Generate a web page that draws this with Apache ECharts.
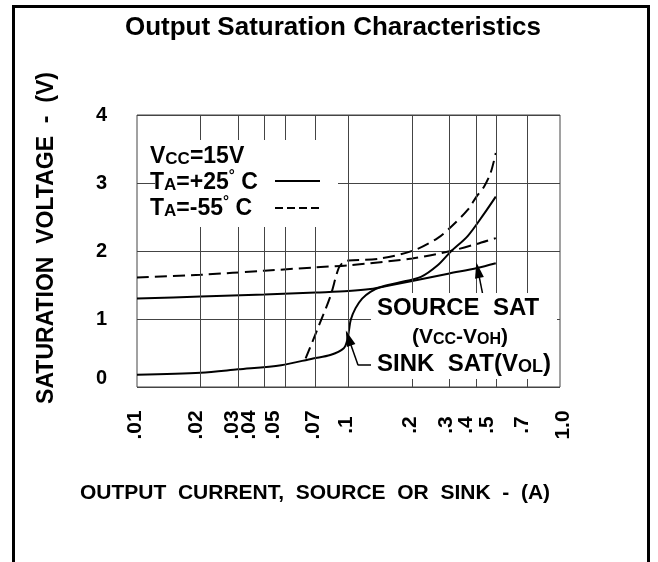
<!DOCTYPE html>
<html>
<head>
<meta charset="utf-8">
<script src="https://cdn.jsdelivr.net/npm/echarts@6/dist/echarts.min.js"></script>
<style>
  html, body { margin: 0; padding: 0; background: #fff; }
  #chart { width: 658px; height: 562px; }
</style>
</head>
<body>
<div id="chart"></div>
<script>
// output current (A) / saturation voltage (V)
const sinkCurrent25 = [0.01, 0.02, 0.03, 0.048, 0.068, 0.082, 0.095, 0.0987, 0.1006, 0.1025, 0.108, 0.116, 0.127, 0.142, 0.17, 0.22, 0.264, 0.304, 0.366, 0.438, 0.497];
const sinkVolt25 = [0.18, 0.21, 0.26, 0.32, 0.42, 0.47, 0.57, 0.69, 0.84, 0.99, 1.16, 1.30, 1.40, 1.47, 1.53, 1.62, 1.79, 1.99, 2.22, 2.55, 2.80];

const sourceCurrent25 = [0.01, 0.02, 0.04, 0.07, 0.1, 0.127, 0.16, 0.2, 0.3, 0.406, 0.497];
const sourceVolt25 = [1.30, 1.33, 1.36, 1.39, 1.41, 1.44, 1.50, 1.56, 1.67, 1.75, 1.82];

const sourceCurrent55 = [0.01, 0.02, 0.04, 0.07, 0.1, 0.2, 0.304, 0.4, 0.497];
const sourceVolt55 = [1.61, 1.65, 1.71, 1.76, 1.79, 1.89, 2.0, 2.10, 2.19];

const sinkCurrent55 = [0.0627, 0.0711, 0.082, 0.0899, 0.095, 0.1, 0.142, 0.204, 0.264, 0.304, 0.365, 0.403, 0.438, 0.47, 0.497];
const sinkVolt55 = [0.42, 0.84, 1.33, 1.75, 1.84, 1.86, 1.89, 2.01, 2.19, 2.35, 2.60, 2.80, 2.95, 3.15, 3.44];

const gridCurrents = [0.02, 0.03, 0.04, 0.05, 0.07, 0.1, 0.2, 0.3, 0.4, 0.5, 0.7];
const tickValues = [0.01, 0.02, 0.03, 0.04, 0.05, 0.07, 0.1, 0.2, 0.3, 0.4, 0.5, 0.7, 1.0];
const tickText = [".01", ".02", ".03", ".04", ".05", ".07", ".1", ".2", ".3", ".4", ".5", ".7", "1.0"];
// the crowded labels sit a little left of their lines on the original
const tickNudge = [-2, -4, -6, -15, -12, -3, -2, -2, -3, -10, -9, -5, 3];

const FONT = "'Liberation Sans', Arial, sans-serif";

function zip(xs, ys) {
  return xs.map((x, i) => [x, ys[i]]);
}

const chart = echarts.init(document.getElementById("chart"), null, { renderer: "canvas" });

const curve = {
  type: "line",
  showSymbol: false,
  smooth: 0.3,
  silent: true,
  animation: false
};

chart.setOption({
  backgroundColor: "#fff",
  animation: false,
  grid: {
    left: 137,
    right: 98,
    top: 115,
    bottom: 175,
    show: true,
    borderColor: "#444",
    borderWidth: 1
  },
  xAxis: {
    type: "log",
    logBase: 10,
    min: 0.01,
    max: 1,
    axisLine: { show: false },
    axisTick: { show: false },
    axisLabel: { show: false },
    splitLine: { show: false },
    minorSplitLine: { show: false }
  },
  yAxis: {
    type: "value",
    min: 0,
    max: 4,
    interval: 1,
    axisLine: { show: false },
    axisTick: { show: false },
    axisLabel: {
      margin: 30,
      color: "#000",
      fontSize: 20,
      fontWeight: "bold",
      fontFamily: FONT,
      // the "0" is printed a bit above the bottom edge on the original
      formatter: v => (v === 0 ? "{z|0}" : String(v)),
      rich: {
        z: { fontSize: 20, fontWeight: "bold", fontFamily: FONT, color: "#000", padding: [0, 0, 18, 0] }
      }
    },
    splitLine: { lineStyle: { color: "#444", width: 1 } }
  },
  series: [
    {
      // vertical grid lines of the log paper
      type: "line",
      data: [],
      silent: true,
      markLine: {
        silent: true,
        symbol: ["none", "none"],
        label: { show: false },
        lineStyle: { color: "#444", width: 1, type: "solid" },
        animation: false,
        data: gridCurrents.map(v => ({ xAxis: v }))
      }
    },
    Object.assign({}, curve, {
      name: "sink 25",
      data: zip(sinkCurrent25, sinkVolt25),
      lineStyle: { color: "#000", width: 2 }
    }),
    Object.assign({}, curve, {
      name: "source 25",
      data: zip(sourceCurrent25, sourceVolt25),
      lineStyle: { color: "#000", width: 2 }
    }),
    Object.assign({}, curve, {
      name: "source -55",
      data: zip(sourceCurrent55, sourceVolt55),
      lineStyle: { color: "#000", width: 2, type: [12, 6] }
    }),
    Object.assign({}, curve, {
      name: "sink -55",
      data: zip(sinkCurrent55, sinkVolt55),
      lineStyle: { color: "#000", width: 2, type: [12, 6] }
    }),
    {
      // callout arrows, above the white label boxes
      type: "line",
      data: [],
      z: 20,
      silent: true,
      markLine: {
        silent: true,
        animation: false,
        label: { show: false },
        symbol: ["none", "none"],
        lineStyle: { color: "#000", width: 1.5, type: "solid" },
        data: [
          [{ coord: [0.43, 1.38], symbol: "none" }, { coord: [0.409, 1.72], symbol: "triangle", symbolSize: [9, 16] }],
          [{ coord: [0.137, 0.32] }, { coord: [0.111, 0.32] }],
          [{ coord: [0.111, 0.32], symbol: "none" }, { coord: [0.1, 0.72], symbol: "triangle", symbolSize: [9, 16] }]
        ]
      }
    }
  ]
});

const big = { fontSize: 23, fontWeight: "bold", fontFamily: FONT, color: "#000", verticalAlign: "bottom", lineHeight: 26 };
const small = { fontSize: 17, fontWeight: "bold", fontFamily: FONT, color: "#000", verticalAlign: "bottom", lineHeight: 26 };
const deg = { fontSize: 15, fontWeight: "bold", fontFamily: FONT, color: "#000", verticalAlign: "top", lineHeight: 26 };

function richText(x, y, text, align, rich) {
  return {
    type: "text",
    x: x,
    y: y,
    z: 30,
    silent: true,
    style: {
      text: text,
      align: align,
      verticalAlign: "middle",
      rich: rich
    }
  };
}

const graphics = [
  {
    type: "rect",
    silent: true,
    z: 50,
    shape: { x: 13.5, y: 6.5, width: 635, height: 620 },
    style: { fill: "none", stroke: "#000", lineWidth: 3 }
  },
  {
    type: "text",
    x: 333,
    y: 28,
    silent: true,
    style: {
      text: "Output Saturation Characteristics",
      font: "bold 26px " + FONT,
      fill: "#000",
      align: "center",
      verticalAlign: "middle"
    }
  },
  {
    type: "text",
    x: 47,
    y: 238,
    rotation: Math.PI / 2,
    silent: true,
    style: {
      text: "SATURATION  VOLTAGE  -  (V)",
      font: "bold 23px " + FONT,
      fill: "#000",
      align: "center",
      verticalAlign: "middle"
    }
  },
  {
    type: "text",
    x: 315,
    y: 493,
    silent: true,
    style: {
      text: "OUTPUT  CURRENT,  SOURCE  OR  SINK  -  (A)",
      font: "bold 21px " + FONT,
      fill: "#000",
      align: "center",
      verticalAlign: "middle"
    }
  },
  // white patches that blank the grid behind the notes
  { type: "rect", z: 10, silent: true, shape: { x: 155, y: 140, width: 183, height: 87 }, style: { fill: "#fff" } },
  { type: "rect", z: 10, silent: true, shape: { x: 371, y: 293, width: 186, height: 86 }, style: { fill: "#fff" } },
  richText(150, 155, "{b|V}{s|CC}{b|=15V}", "left", { b: big, s: small }),
  richText(150, 181, "{b|T}{s|A}{b|=+25}{d|°}{b| C}", "left", { b: big, s: small, d: deg }),
  richText(150, 207, "{b|T}{s|A}{b|=-55}{d|°}{b| C}", "left", { b: big, s: small, d: deg }),
  {
    type: "line", z: 30, silent: true,
    shape: { x1: 275, y1: 181, x2: 320, y2: 181 },
    style: { stroke: "#000", lineWidth: 2 }
  },
  {
    type: "line", z: 30, silent: true,
    shape: { x1: 275, y1: 208, x2: 320, y2: 208 },
    style: { stroke: "#000", lineWidth: 2, lineDash: [8, 4] }
  },
  richText(458, 307, "{b|SOURCE  SAT}", "center", { b: Object.assign({}, big, { fontSize: 24 }) }),
  richText(460, 335, "{b|(V}{s|CC}{b|-V}{s|OH}{b|)}", "center", {
    b: Object.assign({}, big, { fontSize: 21 }),
    s: Object.assign({}, small, { fontSize: 16 })
  }),
  richText(377, 363, "{b|SINK  SAT(V}{s|OL}{b|)}", "left", {
    b: Object.assign({}, big, { fontSize: 24 }),
    s: Object.assign({}, small, { fontSize: 18 })
  })
];

// x tick labels, placed through the log axis
tickValues.forEach((v, i) => {
  const px = chart.convertToPixel({ xAxisIndex: 0 }, v);
  graphics.push({
    type: "text",
    x: px + tickNudge[i],
    y: 425,
    rotation: Math.PI / 2,
    silent: true,
    style: {
      text: tickText[i],
      font: "bold 21px " + FONT,
      fill: "#000",
      align: "center",
      verticalAlign: "middle"
    }
  });
});

chart.setOption({ graphic: graphics });
</script>
</body>
</html>
